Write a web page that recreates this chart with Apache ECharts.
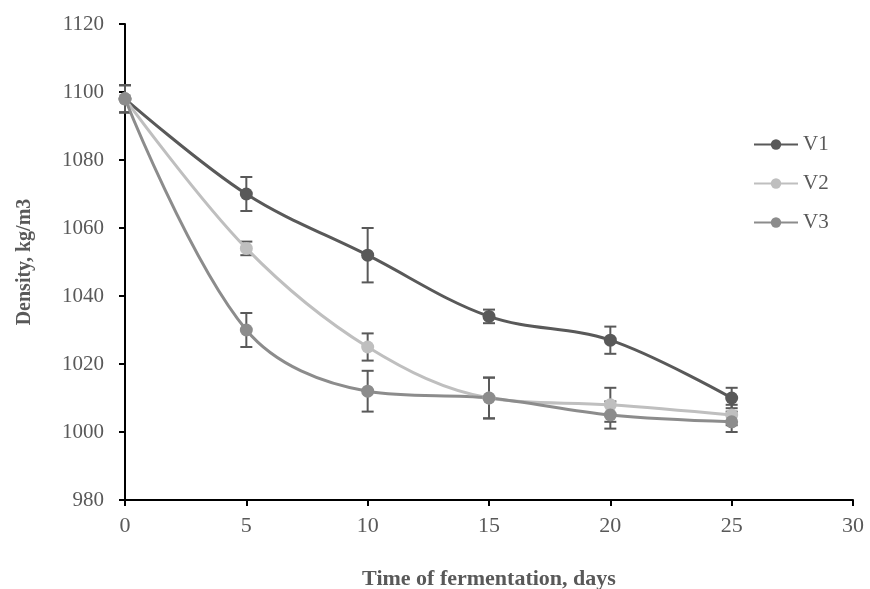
<!DOCTYPE html>
<html>
<head>
<meta charset="utf-8">
<script src="https://cdn.jsdelivr.net/npm/echarts@6/dist/echarts.min.js"></script>
<style>
  html, body { margin: 0; padding: 0; background: #fff; }
  #chart { width: 870px; height: 589px; }
</style>
</head>
<body>
<div id="chart"></div>
<script>
// days of fermentation
var days = [0, 5, 10, 15, 20, 25];
// density values, kg/m3
var v1 = [1098, 1070, 1052, 1034, 1027, 1010];
var v2 = [1098, 1054, 1025, 1010, 1008, 1005];
var v3 = [1098, 1030, 1012, 1010, 1005, 1003];
// error (+/-)
var v1Err = [4, 5, 8, 2, 4, 3];
var v2Err = [4, 2, 4, 6, 5, 3];
var v3Err = [4, 5, 6, 6, 4, 3];

var names = ['V1', 'V2', 'V3'];
var colors = ['#595959', '#bfbfbf', '#8c8c8c'];
var values = [v1, v2, v3];
var errs = [v1Err, v2Err, v3Err];

var chart = echarts.init(document.getElementById('chart'));

function pairs(arr) {
  return days.map(function (d, i) { return [d, arr[i]]; });
}

function errData(arr, e) {
  return days.map(function (d, i) { return [d, arr[i] - e[i], arr[i] + e[i]]; });
}

// error bars drawn with a custom series
function renderErr(params, api) {
  var x = api.value(0);
  var lo = api.coord([x, api.value(1)]);
  var hi = api.coord([x, api.value(2)]);
  var hw = 6;
  var st = { stroke: '#595959', lineWidth: 2 };
  return {
    type: 'group',
    children: [
      { type: 'line', shape: { x1: lo[0], y1: lo[1], x2: hi[0], y2: hi[1] }, style: st },
      { type: 'line', shape: { x1: lo[0] - hw, y1: lo[1], x2: lo[0] + hw, y2: lo[1] }, style: st },
      { type: 'line', shape: { x1: hi[0] - hw, y1: hi[1], x2: hi[0] + hw, y2: hi[1] }, style: st }
    ]
  };
}

var series = [];
names.forEach(function (n, k) {
  series.push({
    name: n + '_err',
    type: 'custom',
    renderItem: renderErr,
    data: errData(values[k], errs[k]),
    z: 1,
    silent: true
  });
});
names.forEach(function (n, k) {
  series.push({
    name: n,
    type: 'line',
    data: pairs(values[k]),
    smooth: 0.35,
    symbol: 'circle',
    symbolSize: 13,
    lineStyle: { color: colors[k], width: 3 },
    itemStyle: { color: colors[k] },
    z: 3
  });
});

var option = {
  animation: false,
  backgroundColor: '#fff',
  legend: {
    data: names,
    orient: 'vertical',
    left: 748,
    top: 129,
    itemWidth: 44,
    itemHeight: 13,
    itemGap: 18,
    textStyle: { fontFamily: 'Liberation Serif', fontSize: 21, color: '#595959' }
  },
  grid: { left: 125, right: 17, top: 24, bottom: 89, outerBoundsMode: 'none' },
  xAxis: {
    type: 'value',
    min: 0,
    max: 30,
    interval: 5,
    name: 'Time of fermentation, days',
    nameLocation: 'middle',
    nameGap: 68,
    nameTextStyle: { fontFamily: 'Liberation Serif', fontWeight: 'bold', fontSize: 22, color: '#595959' },
    axisLine: { lineStyle: { color: '#000', width: 2 } },
    axisTick: { length: 6, lineStyle: { color: '#000', width: 2 } },
    axisLabel: { fontFamily: 'Liberation Serif', fontSize: 22, color: '#595959', margin: 15 },
    splitLine: { show: false }
  },
  yAxis: {
    type: 'value',
    min: 980,
    max: 1120,
    interval: 20,
    name: 'Density, kg/m3',
    nameLocation: 'middle',
    nameGap: 90,
    nameTextStyle: { fontFamily: 'Liberation Serif', fontWeight: 'bold', fontSize: 20, color: '#595959' },
    axisLine: { show: true, lineStyle: { color: '#000', width: 2 } },
    axisTick: { show: true, length: 6, lineStyle: { color: '#000', width: 2 } },
    axisLabel: {
      fontFamily: 'Liberation Serif', fontSize: 21, color: '#595959', margin: 21,
      formatter: function (v) { return String(v); }
    },
    splitLine: { show: false }
  },
  series: series
};

chart.setOption(option);
</script>
</body>
</html>
